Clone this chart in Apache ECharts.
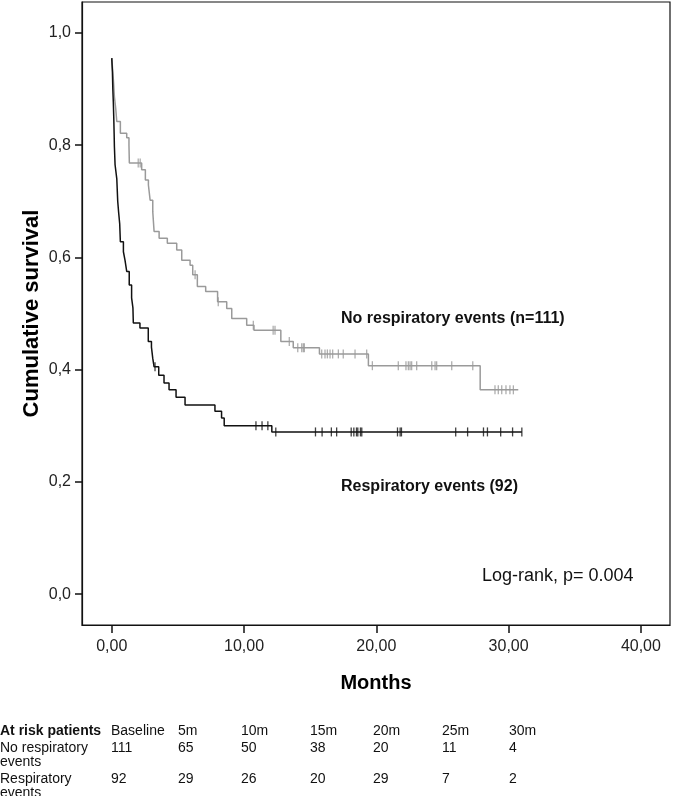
<!DOCTYPE html>
<html><head><meta charset="utf-8">
<script src="https://cdn.jsdelivr.net/npm/echarts@6/dist/echarts.min.js"></script>
<style>html,body{margin:0;padding:0;background:#fff}#c{width:673px;height:796px}</style>
</head><body><div id="c"></div>
<script>
// Kaplan-Meier steps: [time (months), survival after event]
const noRespSteps = [[0,0.955],[0.08,0.93],[0.14,0.91],[0.2,0.886],[0.3,0.865],[0.38,0.842],[0.65,0.821],[1.13,0.813],[1.3,0.80],[1.33,0.768],[2.26,0.756],[2.54,0.738],[2.77,0.729],[2.9,0.702],[3.1,0.681],[3.2,0.646],[3.58,0.634],[4.2,0.625],[4.91,0.613],[5.29,0.595],[5.92,0.586],[6.12,0.569],[6.47,0.548],[7.1,0.539],[8.0,0.521],[8.69,0.509],[9.07,0.491],[10.2,0.479],[10.75,0.470],[12.78,0.450],[13.72,0.439],[15.7,0.428],[19.4,0.407],[27.85,0.364],[30.73,0.364]];
const noRespCensor = [2.0,2.15,6.3,8.05,10.7,12.2,12.34,13.42,14.06,14.36,14.48,14.56,15.87,16.12,16.3,16.5,16.7,17.13,17.5,18.39,19.27,19.7,21.66,22.24,22.42,22.55,22.67,23.05,24.19,24.44,24.56,25.7,27.29,28.97,29.22,29.48,29.8,30.1,30.36];
const respSteps = [[0,0.955],[0.05,0.93],[0.08,0.90],[0.12,0.875],[0.15,0.85],[0.18,0.82],[0.2,0.797],[0.25,0.765],[0.38,0.74],[0.45,0.70],[0.52,0.68],[0.6,0.66],[0.65,0.628],[0.88,0.61],[1.0,0.595],[1.13,0.575],[1.32,0.551],[1.5,0.528],[1.6,0.51],[1.63,0.483],[2.13,0.474],[2.76,0.45],[3.0,0.44],[3.1,0.42],[3.2,0.405],[3.55,0.39],[3.95,0.376],[4.33,0.364],[4.86,0.351],[5.54,0.337],[7.8,0.326],[8.3,0.314],[8.5,0.30],[12.1,0.289],[31.0,0.289]];
const respCensor = [3.27,10.9,11.36,11.8,12.4,15.4,15.9,16.6,17.0,18.1,18.3,18.5,18.6,18.8,18.9,21.6,21.8,21.9,26.0,26.9,28.1,28.4,29.4,30.3,31.0];

const xTicks = [0,10,20,30,40];
const yTicks = [0,0.2,0.4,0.6,0.8,1.0];

const riskHeader = ['At risk patients','Baseline','5m','10m','15m','20m','25m','30m'];
const riskNoResp = [111,65,50,38,20,11,4];
const riskResp = [92,29,26,20,29,7,2];
const riskRowNames = [['No respiratory','events'],['Respiratory','events']];

const FONT = '"Liberation Sans", Arial, Helvetica, sans-serif';
const GRAY = '#9a9a9a', BLACK = '#111';

function levelAt(steps, t){ let s = steps[0][1]; for (const p of steps){ if (p[0] <= t) s = p[1]; } return s; }
const censorPts = (steps, ts) => ts.map(t => [t, levelAt(steps, t)]);

const colX = [0,111,178,241,310,373,442,509];
const graphic = [];
riskHeader.forEach((h,i)=>graphic.push({type:'text',left:colX[i],top:724,style:{text:h,font:(i===0?'bold ':'')+'14px '+FONT,fill:'#111'}}));
[riskNoResp, riskResp].forEach((row, r)=>{
  const y = r===0 ? 741 : 772;
  graphic.push({type:'text',left:0,top:y,style:{text:riskRowNames[r].join('\n'),font:'14px '+FONT,lineHeight:14,fill:'#111'}});
  row.forEach((v,i)=>graphic.push({type:'text',left:colX[i+1],top:y,style:{text:String(v),font:'14px '+FONT,fill:'#111'}}));
});
graphic.push({type:'text',left:341,top:311,style:{text:'No respiratory events (n=111)',font:'bold 16px '+FONT,fill:'#111'}});
graphic.push({type:'text',left:341,top:479,style:{text:'Respiratory events (92)',font:'bold 16px '+FONT,fill:'#111'}});
graphic.push({type:'text',left:482,top:567,style:{text:'Log-rank, p= 0.004',font:'18px '+FONT,fill:'#111'}});

const chart = echarts.init(document.getElementById('c'));
chart.setOption({
  animation:false,
  backgroundColor:'#fff',
  grid:{left:82,right:3,top:2,bottom:171,show:true,borderColor:'#111',borderWidth:1.2,containLabel:false},
  xAxis:{type:'value',min:-2.25,max:42.2,
    name:'Months',nameLocation:'middle',nameGap:48,
    nameTextStyle:{fontFamily:FONT,fontWeight:'bold',fontSize:20,color:'#000'},
    axisLine:{show:true,onZero:false,lineStyle:{color:'#111',width:1.2}},
    axisTick:{show:true,length:8,customValues:xTicks,lineStyle:{color:'#111',width:1.5}},
    axisLabel:{customValues:xTicks,margin:14,fontFamily:FONT,fontSize:16,color:'#222',formatter:v=>v.toFixed(2).replace('.',',')},
    splitLine:{show:false}},
  yAxis:{type:'value',min:-0.055,max:1.055,
    name:'Cumulative survival',nameLocation:'middle',nameGap:39,nameMoveOverlap:false,
    nameTextStyle:{fontFamily:FONT,fontWeight:'bold',fontSize:22,color:'#000'},
    axisLine:{show:true,onZero:false,lineStyle:{color:'#111',width:1.2}},
    axisTick:{show:true,length:7,customValues:yTicks,lineStyle:{color:'#111',width:1.5}},
    axisLabel:{customValues:yTicks,margin:11,fontFamily:FONT,fontSize:16,color:'#222',formatter:v=>v.toFixed(1).replace('.',',')},
    splitLine:{show:false}},
  graphic: graphic,
  series:[
    {type:'line',step:'end',data:noRespSteps,showSymbol:false,symbol:'none',lineStyle:{color:GRAY,width:1.5},z:2},
    {type:'line',step:'end',data:respSteps,showSymbol:false,symbol:'none',lineStyle:{color:BLACK,width:1.5},z:3},
    {type:'scatter',data:censorPts(noRespSteps,noRespCensor),symbol:'rect',symbolSize:[1.3,9],itemStyle:{color:GRAY},z:4},
    {type:'scatter',data:censorPts(respSteps,respCensor),symbol:'rect',symbolSize:[1.3,9],itemStyle:{color:BLACK},z:5}
  ]
});
</script></body></html>
